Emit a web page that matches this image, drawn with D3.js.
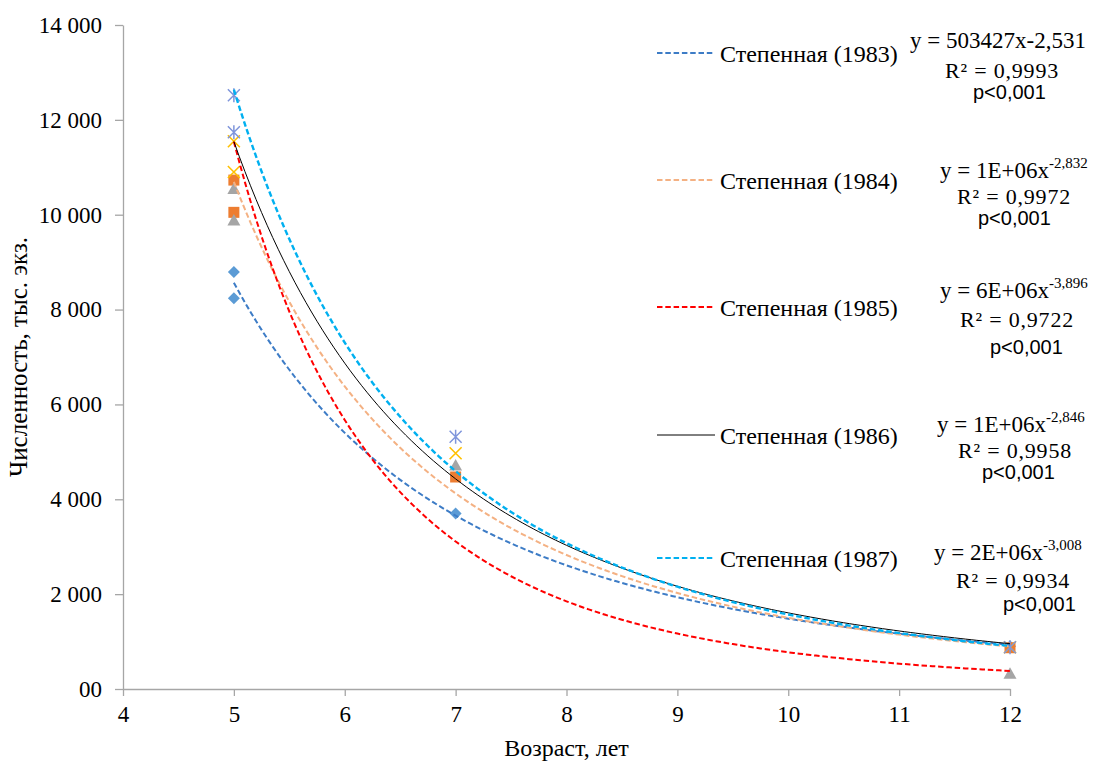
<!DOCTYPE html>
<html>
<head>
<meta charset="utf-8">
<script src="https://cdn.jsdelivr.net/npm/d3@7"></script>
<style>
  html, body { margin: 0; padding: 0; background: #fff; }
  svg { display: block; }
</style>
</head>
<body>
<svg id="chart" width="1094" height="765"></svg>
<script>
// ---------------- DATA ----------------
const ages = [5, 5, 7, 12];
const years = ["1983", "1984", "1985", "1986", "1987"];
const n1983 = [8790, 8240, 3700, 900];
const n1984 = [10730, 10050, 4470, 870];
const n1985 = [10540, 9880, 4710, 320];
const n1986 = [11550, 10900, 4970, 880];
const n1987 = [12520, 11740, 5320, 880];
const seriesValues = [n1983, n1984, n1985, n1986, n1987];

// power trendlines y = a * x^b
const trendCoef = [503427, 1020000, 6100000, 1126000, 1600000];
const trendExp = [-2.531, -2.832, -3.896, -2.846, -3.008];
const trendAgeRange = [5, 12];

const legendLabels = years.map(y => "Степенная (" + y + ")");
const eqMain = ["y = 503427x-2,531", "y = 1E+06x", "y = 6E+06x", "y = 1E+06x", "y = 2E+06x"];
const eqSup = ["", "-2,832", "-3,896", "-2,846", "-3,008"];
const r2Labels = ["R² = 0,9993", "R² = 0,9972", "R² = 0,9722", "R² = 0,9958", "R² = 0,9934"];
const pLabels = ["p<0,001", "p<0,001", "p<0,001", "p<0,001", "p<0,001"];

const xTicks = [4, 5, 6, 7, 8, 9, 10, 11, 12];
const yTicks = [0, 2000, 4000, 6000, 8000, 10000, 12000, 14000];
const yTickLabels = ["00", "2 000", "4 000", "6 000", "8 000", "10 000", "12 000", "14 000"];
const xTitle = "Возраст, лет";
const yTitle = "Численность, тыс. экз.";

// ---------------- LAYOUT / STYLE ----------------
const markerStyles = [
  { shape: "diamond", color: "#5B9BD5" },
  { shape: "square", color: "#ED7D31" },
  { shape: "triangle", color: "#A5A5A5" },
  { shape: "x", color: "#FFC000" },
  { shape: "star", color: "#7F95DB" }
];
const trendStyles = [
  { color: "#3D7CC6", width: 2, dash: "5.5,2.8" },
  { color: "#F4B183", width: 2, dash: "5.5,2.8" },
  { color: "#FF0000", width: 2, dash: "5.5,2.8" },
  { color: "#000000", width: 1, dash: null },
  { color: "#00B0F0", width: 2.4, dash: "5.5,2.8" }
];
const legendY = [53, 180, 307, 435, 558];
const eqPos = [[910, 48], [940, 178], [940, 298], [937, 432], [934, 560]];
const r2Pos = [[945, 78], [957, 204], [960, 327], [958, 458], [956, 588]];
const pPos = [[973, 99], [978, 225], [990, 354], [982, 479], [1003, 611]];

const SERIF = '"Liberation Serif", "Times New Roman", Tinos, serif';
const SANS = '"Liberation Sans", Arial, Arimo, sans-serif';
const axisColor = "#A6A6A6";

const svg = d3.select("#chart");
const x = d3.scaleLinear().domain([4, 12]).range([123, 1010]);
const y = d3.scaleLinear().domain([0, 14000]).range([689, 25]);

// ---------------- AXES ----------------
const yAxis = d3.axisLeft(y).tickValues(yTicks).tickSize(8).tickSizeOuter(0)
  .tickFormat((d, i) => yTickLabels[i]).tickPadding(13);
const gy = svg.append("g").attr("transform", `translate(${x(4)},0)`).call(yAxis);
gy.select(".domain").attr("stroke", axisColor).attr("stroke-width", 1.3);
gy.selectAll(".tick line").attr("stroke", axisColor).attr("stroke-width", 1.3);
gy.selectAll(".tick text").style("font-family", SERIF).style("font-size", "23px").attr("fill", "#000");

const xAxis = d3.axisBottom(x).tickValues(xTicks).tickSize(7).tickSizeOuter(0)
  .tickFormat(d3.format("d")).tickPadding(10);
const gx = svg.append("g").attr("transform", `translate(0,${y(0)})`).call(xAxis);
gx.select(".domain").attr("stroke", axisColor).attr("stroke-width", 1.3);
gx.selectAll(".tick line").attr("stroke", axisColor).attr("stroke-width", 1.3);
gx.selectAll(".tick text").style("font-family", SERIF).style("font-size", "23px").attr("fill", "#000");

svg.append("text").attr("x", (x(4) + x(12)) / 2).attr("y", 756)
  .attr("text-anchor", "middle").style("font-family", SERIF).style("font-size", "24px")
  .text(xTitle);
svg.append("text").attr("transform", `translate(27,${(y(0) + y(14000)) / 2}) rotate(-90)`)
  .attr("text-anchor", "middle").style("font-family", SERIF).style("font-size", "25px")
  .text(yTitle);

// ---------------- MARKERS ----------------
function drawMarker(g, shape, color, cx, cy) {
  if (shape === "diamond") {
    g.append("path").attr("d", `M${cx},${cy - 6}L${cx + 6},${cy}L${cx},${cy + 6}L${cx - 6},${cy}Z`).attr("fill", color);
  } else if (shape === "square") {
    g.append("rect").attr("x", cx - 5.5).attr("y", cy - 5.5).attr("width", 11).attr("height", 11).attr("fill", color);
  } else if (shape === "triangle") {
    g.append("path").attr("d", `M${cx},${cy - 6.5}L${cx + 6.5},${cy + 5}L${cx - 6.5},${cy + 5}Z`).attr("fill", color);
  } else if (shape === "x") {
    g.append("path").attr("d", `M${cx - 6},${cy - 6}L${cx + 6},${cy + 6}M${cx - 6},${cy + 6}L${cx + 6},${cy - 6}`)
      .attr("stroke", color).attr("stroke-width", 1.6).attr("fill", "none");
  } else if (shape === "star") {
    g.append("path").attr("d", `M${cx - 6},${cy - 6}L${cx + 6},${cy + 6}M${cx - 6},${cy + 6}L${cx + 6},${cy - 6}M${cx},${cy - 7}L${cx},${cy + 7}`)
      .attr("stroke", color).attr("stroke-width", 1.5).attr("fill", "none");
  }
}
const gm = svg.append("g");
seriesValues.forEach((vals, s) => {
  vals.forEach((v, i) => drawMarker(gm, markerStyles[s].shape, markerStyles[s].color, x(ages[i]), y(v)));
});

// ---------------- TRENDLINES ----------------
const line = d3.line().x(d => x(d[0])).y(d => y(d[1]));
const xs = d3.range(trendAgeRange[0], trendAgeRange[1] + 0.0001, 0.05);
const gt = svg.append("g");
years.forEach((yr, s) => {
  const pts = xs.map(a => [a, trendCoef[s] * Math.pow(a, trendExp[s])]);
  const p = gt.append("path").attr("d", line(pts)).attr("fill", "none")
    .attr("stroke", trendStyles[s].color).attr("stroke-width", trendStyles[s].width);
  if (trendStyles[s].dash) p.attr("stroke-dasharray", trendStyles[s].dash);
});

// ---------------- LEGEND & EQUATIONS ----------------
const gl = svg.append("g");
years.forEach((yr, s) => {
  const ly = legendY[s];
  const l = gl.append("line").attr("x1", 657).attr("x2", 715).attr("y1", ly).attr("y2", ly)
    .attr("stroke", trendStyles[s].color).attr("stroke-width", trendStyles[s].width === 1 ? 1 : 2);
  if (trendStyles[s].dash) l.attr("stroke-dasharray", trendStyles[s].dash);
  gl.append("text").attr("x", 720).attr("y", ly + 9)
    .style("font-family", SERIF).style("font-size", "24px")
    .text(legendLabels[s]);

  const eq = gl.append("text").attr("x", eqPos[s][0]).attr("y", eqPos[s][1])
    .style("font-family", SERIF).style("font-size", "23px");
  eq.append("tspan").text(eqMain[s]);
  if (eqSup[s]) eq.append("tspan").style("font-size", "15px").attr("dy", -10).text(eqSup[s]);

  gl.append("text").attr("x", r2Pos[s][0]).attr("y", r2Pos[s][1])
    .style("font-family", SERIF).style("font-size", "22px").style("letter-spacing", "0.8px")
    .text(r2Labels[s]);
  gl.append("text").attr("x", pPos[s][0]).attr("y", pPos[s][1])
    .style("font-family", SANS).style("font-size", "20px").text(pLabels[s]);
});
</script>
</body>
</html>
